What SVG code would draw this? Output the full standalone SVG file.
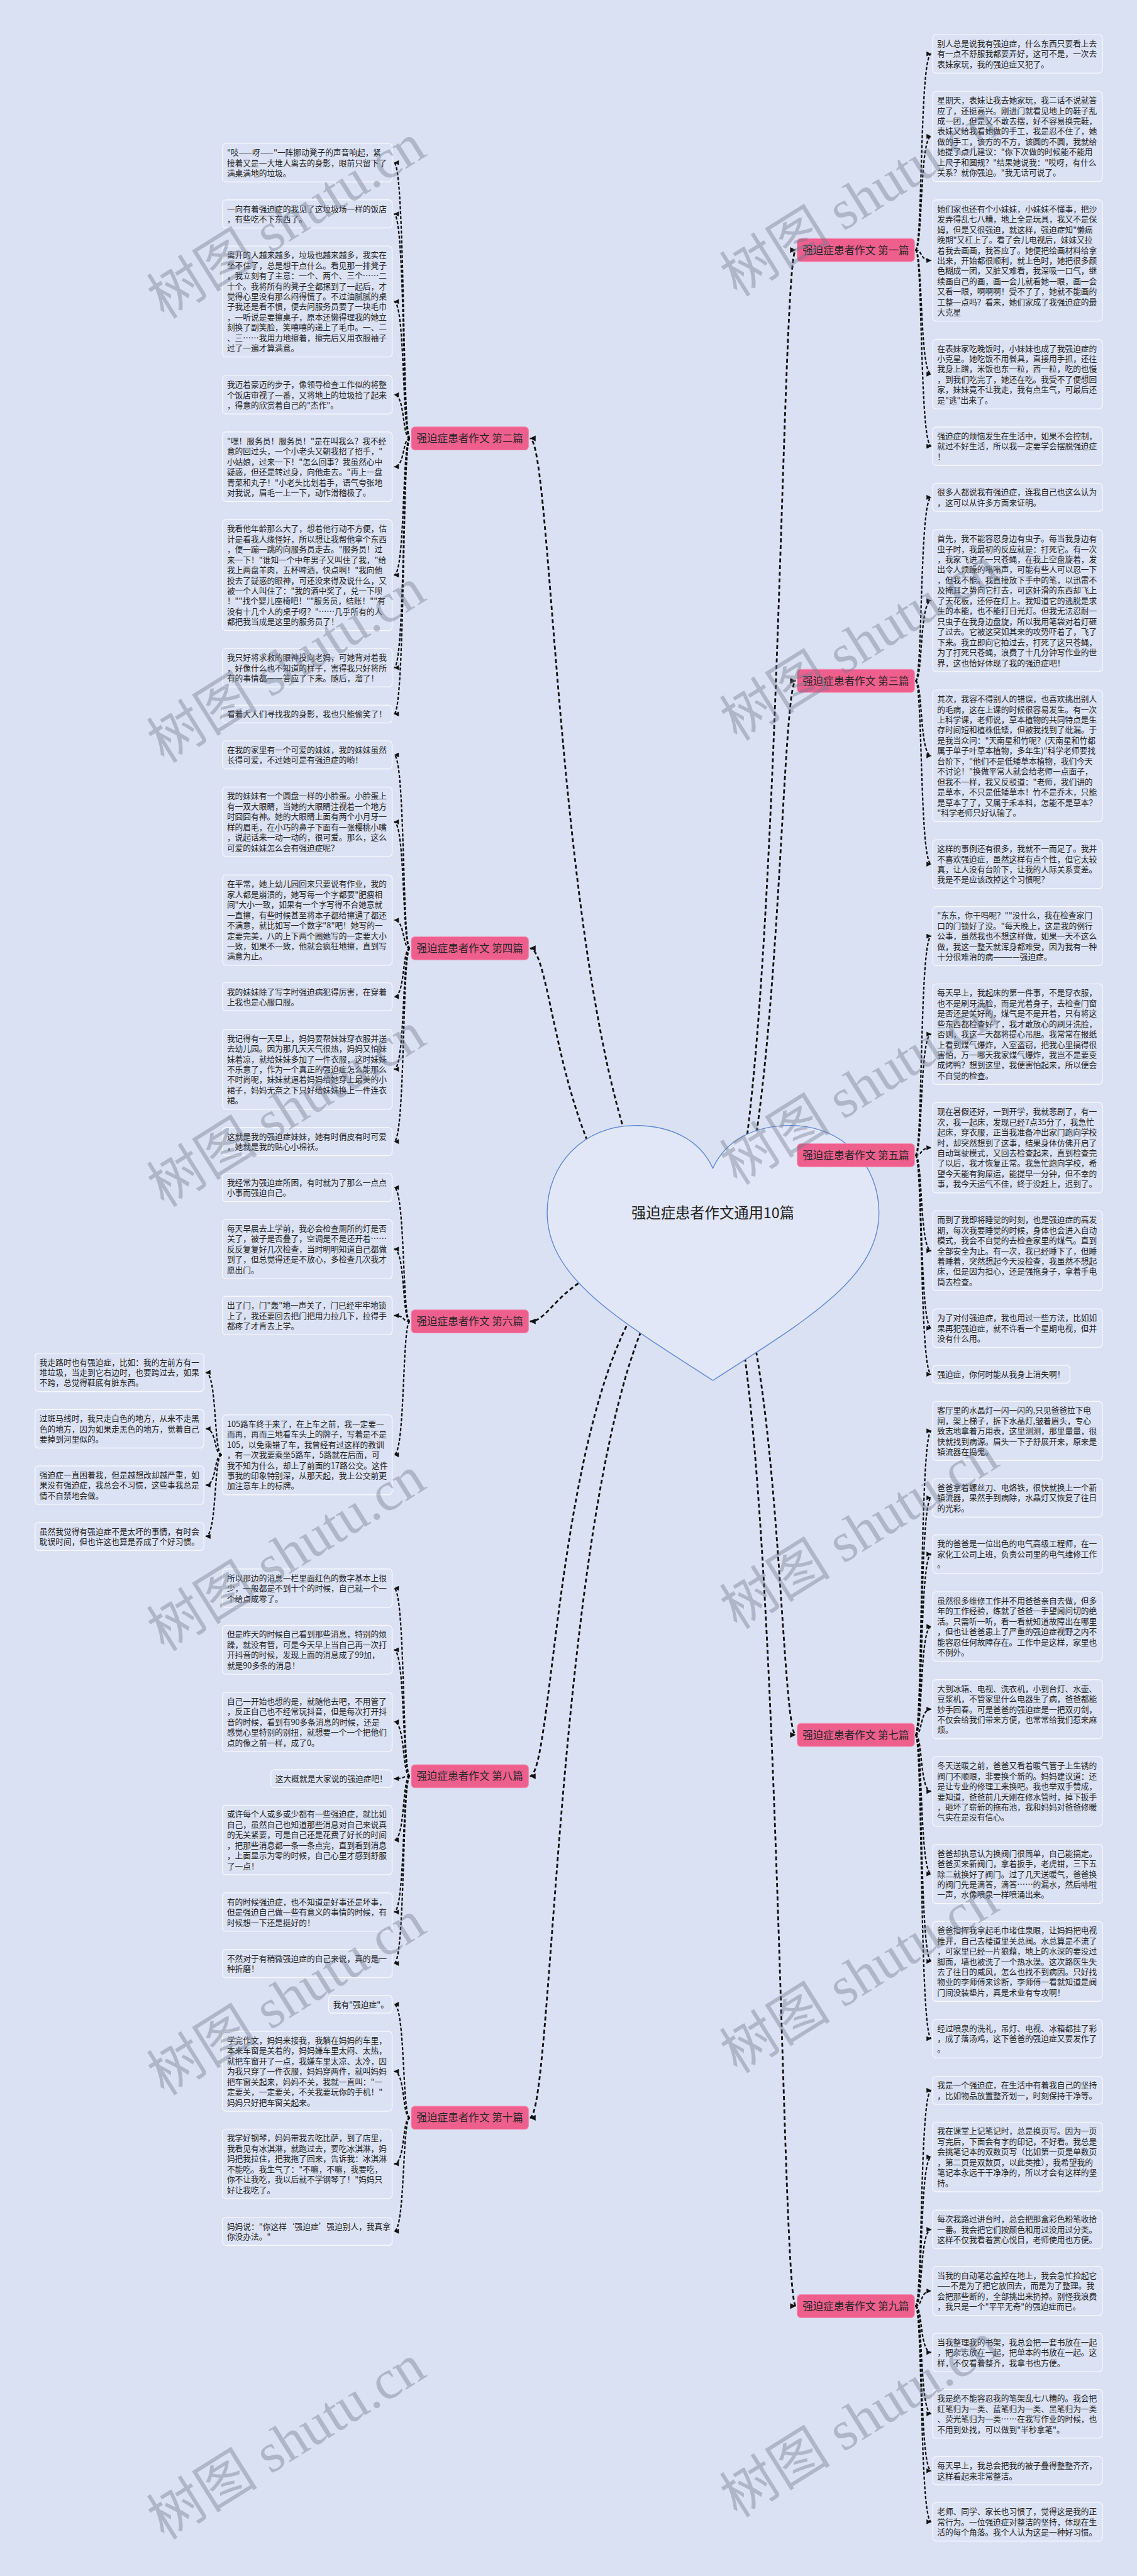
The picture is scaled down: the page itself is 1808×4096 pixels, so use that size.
<svg xmlns="http://www.w3.org/2000/svg" width="1808" height="4096" viewBox="0 0 1808 4096">
<defs>
<style>
.n rect{fill:#dbe2f4;stroke:#f6f8fd;stroke-width:2}
.n text{font-family:"Noto Sans CJK SC","Noto Sans",sans-serif;font-size:18px;fill:#232323}
.tp rect{fill:#ef5f8e;stroke:#f48bb0;stroke-width:1.5}
.tp text{font-family:"Noto Sans CJK SC","Noto Sans",sans-serif;font-size:23.5px;fill:#262626;text-anchor:middle}
.main{fill:none;stroke:#111;stroke-width:4;stroke-dasharray:9 6;marker-end:url(#am)}
.sub{fill:none;stroke:#111;stroke-width:3.2;stroke-dasharray:7 4;marker-end:url(#as)}
.wm{font-family:"Liberation Serif","Noto Sans CJK SC",serif;font-size:125px;fill:#6f788c;opacity:0.4}
</style>
<marker id="am" viewBox="0 0 10 10" refX="10" refY="5" markerWidth="15" markerHeight="13" markerUnits="userSpaceOnUse" orient="auto"><path d="M0,0 L10,5 L0,10 z" fill="#111"/></marker>
<marker id="as" viewBox="0 0 10 10" refX="10" refY="5" markerWidth="12" markerHeight="11" markerUnits="userSpaceOnUse" orient="auto"><path d="M0,0 L10,5 L0,10 z" fill="#111"/></marker>
</defs>
<rect width="1808" height="4096" fill="#dae1f2"/>
<g transform="scale(0.70625)">
<g id="connectors">
<path class="main" d="M1605 2820 C1755 2820 1755 563 1792 563"/>
<path class="main" d="M1605 2820 C1755 2820 1755 1533 1792 1533"/>
<path class="main" d="M1605 2820 C1755 2820 1755 2601 1792 2601"/>
<path class="main" d="M1605 2820 C1755 2820 1755 3906 1792 3906"/>
<path class="main" d="M1605 2820 C1755 2820 1755 5192 1792 5192"/>
<path class="main" d="M1605 2820 C1255 2820 1255 987 1193 987"/>
<path class="main" d="M1605 2820 C1255 2820 1255 2135 1193 2135"/>
<path class="main" d="M1605 2820 C1255 2820 1255 2975 1193 2975"/>
<path class="main" d="M1605 2820 C1255 2820 1255 3999 1193 3999"/>
<path class="main" d="M1605 2820 C1255 2820 1255 4768 1193 4768"/>
<path class="sub" d="M2061 563 C2078 563 2070 121.3 2097 121.3"/>
<path class="sub" d="M2061 563 C2078 563 2070 307 2097 307"/>
<path class="sub" d="M2061 563 C2078 563 2070 586.5 2097 586.5"/>
<path class="sub" d="M2061 563 C2078 563 2070 842.3 2097 842.3"/>
<path class="sub" d="M2061 563 C2078 563 2070 1004.8 2097 1004.8"/>
<path class="sub" d="M2061 1533 C2078 1533 2070 1119.7 2097 1119.7"/>
<path class="sub" d="M2061 1533 C2078 1533 2070 1352.3 2097 1352.3"/>
<path class="sub" d="M2061 1533 C2078 1533 2070 1701.7 2097 1701.7"/>
<path class="sub" d="M2061 1533 C2078 1533 2070 1945.5 2097 1945.5"/>
<path class="sub" d="M2061 2601 C2078 2601 2070 2107.6 2097 2107.6"/>
<path class="sub" d="M2061 2601 C2078 2601 2070 2328.2 2097 2328.2"/>
<path class="sub" d="M2061 2601 C2078 2601 2070 2584 2097 2584"/>
<path class="sub" d="M2061 2601 C2078 2601 2070 2815.9 2097 2815.9"/>
<path class="sub" d="M2061 2601 C2078 2601 2070 2990.3 2097 2990.3"/>
<path class="sub" d="M2061 2601 C2078 2601 2070 3094 2097 3094"/>
<path class="sub" d="M2061 3906 C2078 3906 2070 3221.6 2097 3221.6"/>
<path class="sub" d="M2061 3906 C2078 3906 2070 3372.3 2097 3372.3"/>
<path class="sub" d="M2061 3906 C2078 3906 2070 3498.8 2097 3498.8"/>
<path class="sub" d="M2061 3906 C2078 3906 2070 3661.8 2097 3661.8"/>
<path class="sub" d="M2061 3906 C2078 3906 2070 3848.1 2097 3848.1"/>
<path class="sub" d="M2061 3906 C2078 3906 2070 4033.3 2097 4033.3"/>
<path class="sub" d="M2061 3906 C2078 3906 2070 4219.1 2097 4219.1"/>
<path class="sub" d="M2061 3906 C2078 3906 2070 4415.9 2097 4415.9"/>
<path class="sub" d="M2061 3906 C2078 3906 2070 4589.8 2097 4589.8"/>
<path class="sub" d="M2061 5192 C2078 5192 2070 4706.2 2097 4706.2"/>
<path class="sub" d="M2061 5192 C2078 5192 2070 4856.3 2097 4856.3"/>
<path class="sub" d="M2061 5192 C2078 5192 2070 5019.3 2097 5019.3"/>
<path class="sub" d="M2061 5192 C2078 5192 2070 5158 2097 5158"/>
<path class="sub" d="M2061 5192 C2078 5192 2070 5296.3 2097 5296.3"/>
<path class="sub" d="M2061 5192 C2078 5192 2070 5434.5 2097 5434.5"/>
<path class="sub" d="M2061 5192 C2078 5192 2070 5562.7 2097 5562.7"/>
<path class="sub" d="M2061 5192 C2078 5192 2070 5677.8 2097 5677.8"/>
<path class="sub" d="M923 987 C905 987 913 366.3 887 366.3"/>
<path class="sub" d="M923 987 C905 987 913 481.7 887 481.7"/>
<path class="sub" d="M923 987 C905 987 913 678.9 887 678.9"/>
<path class="sub" d="M923 987 C905 987 913 888.8 887 888.8"/>
<path class="sub" d="M923 987 C905 987 913 1050.8 887 1050.8"/>
<path class="sub" d="M923 987 C905 987 913 1294.9 887 1294.9"/>
<path class="sub" d="M923 987 C905 987 913 1503.3 887 1503.3"/>
<path class="sub" d="M923 987 C905 987 913 1607.5 887 1607.5"/>
<path class="sub" d="M923 2135 C905 2135 913 1699.7 887 1699.7"/>
<path class="sub" d="M923 2135 C905 2135 913 1850.3 887 1850.3"/>
<path class="sub" d="M923 2135 C905 2135 913 2071.6 887 2071.6"/>
<path class="sub" d="M923 2135 C905 2135 913 2244.2 887 2244.2"/>
<path class="sub" d="M923 2135 C905 2135 913 2407.4 887 2407.4"/>
<path class="sub" d="M923 2135 C905 2135 913 2570.2 887 2570.2"/>
<path class="sub" d="M923 2975 C905 2975 913 2673.7 887 2673.7"/>
<path class="sub" d="M923 2975 C905 2975 913 2812.1 887 2812.1"/>
<path class="sub" d="M923 2975 C905 2975 913 2961.8 887 2961.8"/>
<path class="sub" d="M923 2975 C905 2975 913 3275.4 887 3275.4"/>
<path class="sub" d="M499 3275.4 C481 3275.4 489 3089.8 463 3089.8"/>
<path class="sub" d="M499 3275.4 C481 3275.4 489 3216.8 463 3216.8"/>
<path class="sub" d="M499 3275.4 C481 3275.4 489 3343.8 463 3343.8"/>
<path class="sub" d="M499 3275.4 C481 3275.4 489 3459.2 463 3459.2"/>
<path class="sub" d="M923 3999 C905 3999 913 3575.8 887 3575.8"/>
<path class="sub" d="M923 3999 C905 3999 913 3714.5 887 3714.5"/>
<path class="sub" d="M923 3999 C905 3999 913 3876.6 887 3876.6"/>
<path class="sub" d="M923 3999 C905 3999 913 4004.5 887 4004.5"/>
<path class="sub" d="M923 3999 C905 3999 913 4142.8 887 4142.8"/>
<path class="sub" d="M923 3999 C905 3999 913 4304.8 887 4304.8"/>
<path class="sub" d="M923 3999 C905 3999 913 4420.7 887 4420.7"/>
<path class="sub" d="M923 4768 C905 4768 913 4512.5 887 4512.5"/>
<path class="sub" d="M923 4768 C905 4768 913 4663.4 887 4663.4"/>
<path class="sub" d="M923 4768 C905 4768 913 4871.8 887 4871.8"/>
<path class="sub" d="M923 4768 C905 4768 913 5023.7 887 5023.7"/>
</g>

<g id="center">
<path d="M1605 2630 C1575 2565 1510 2534 1430 2534 C1315 2534 1232 2620 1232 2730 C1232 2880 1400 2975 1605 3108 C1810 2975 1979 2880 1979 2730 C1979 2620 1896 2534 1781 2534 C1700 2534 1635 2565 1605 2630 Z" fill="#e1e7f6" stroke="#5f88d6" stroke-width="2"/>
<text x="1605" y="2742" text-anchor="middle" font-family="Noto Sans CJK SC, Noto Sans, sans-serif" font-size="33" fill="#222">强迫症患者作文通用10篇</text>
</g>

<g id="T1" class="tp"><rect x="1795" y="537" width="264" height="52" rx="8"/><text x="1927" y="571.5">强迫症患者作文 第一篇</text></g>
<g id="T3" class="tp"><rect x="1795" y="1507" width="264" height="52" rx="8"/><text x="1927" y="1541.5">强迫症患者作文 第三篇</text></g>
<g id="T5" class="tp"><rect x="1795" y="2575" width="264" height="52" rx="8"/><text x="1927" y="2609.5">强迫症患者作文 第五篇</text></g>
<g id="T7" class="tp"><rect x="1795" y="3880" width="264" height="52" rx="8"/><text x="1927" y="3914.5">强迫症患者作文 第七篇</text></g>
<g id="T9" class="tp"><rect x="1795" y="5166" width="264" height="52" rx="8"/><text x="1927" y="5200.5">强迫症患者作文 第九篇</text></g>
<g id="T2" class="tp"><rect x="926" y="961" width="264" height="52" rx="8"/><text x="1058" y="995.5">强迫症患者作文 第二篇</text></g>
<g id="T4" class="tp"><rect x="926" y="2109" width="264" height="52" rx="8"/><text x="1058" y="2143.5">强迫症患者作文 第四篇</text></g>
<g id="T6" class="tp"><rect x="926" y="2949" width="264" height="52" rx="8"/><text x="1058" y="2983.5">强迫症患者作文 第六篇</text></g>
<g id="T8" class="tp"><rect x="926" y="3973" width="264" height="52" rx="8"/><text x="1058" y="4007.5">强迫症患者作文 第八篇</text></g>
<g id="T10" class="tp"><rect x="926" y="4742" width="264" height="52" rx="8"/><text x="1058" y="4776.5">强迫症患者作文 第十篇</text></g>

<g id="R1a" class="n"><rect x="2100" y="78" width="382" height="86.6" rx="8"/><text x="2110" y="104.8"><tspan x="2110">别人总是说我有强迫症，什么东西只要看上去</tspan><tspan x="2110" dy="23.3">有一点不舒服我都要弄好，这可不是，一次去</tspan><tspan x="2110" dy="23.3">表妹家玩，我的强迫症又犯了。</tspan></text></g>
<g id="R1b" class="n"><rect x="2100" y="205.5" width="382" height="203.1" rx="8"/><text x="2110" y="232.3"><tspan x="2110">星期天，表妹让我去她家玩，我二话不说就答</tspan><tspan x="2110" dy="23.3">应了，还挺高兴。刚进门就看见地上的鞋子乱</tspan><tspan x="2110" dy="23.3">成一团，但是又不敢去摆，好不容易换完鞋，</tspan><tspan x="2110" dy="23.3">表妹又给我看她做的手工，我是忍不住了，她</tspan><tspan x="2110" dy="23.3">做的手工，该方的不方，该圆的不圆，我就给</tspan><tspan x="2110" dy="23.3">她提了点儿建议："你下次做的时候能不能用</tspan><tspan x="2110" dy="23.3">上尺子和圆规？"结果她说我："哎呀，有什么</tspan><tspan x="2110" dy="23.3">关系？就你强迫。"我无话可说了。</tspan></text></g>
<g id="R1c" class="n"><rect x="2100" y="450" width="382" height="273" rx="8"/><text x="2110" y="476.8"><tspan x="2110">她们家也还有个小妹妹，小妹妹不懂事，把沙</tspan><tspan x="2110" dy="23.3">发弄得乱七八糟，地上全是玩具，我又不是保</tspan><tspan x="2110" dy="23.3">姆，但是又很强迫，就这样，强迫症知"懒癌</tspan><tspan x="2110" dy="23.3">晚期"又杠上了。看了会儿电视后，妹妹又拉</tspan><tspan x="2110" dy="23.3">着我去画画，我答应了。她便把绘画材料给拿</tspan><tspan x="2110" dy="23.3">出来，开始都很顺利，就上色时，她把很多颜</tspan><tspan x="2110" dy="23.3">色糊成一团，又脏又难看，我深吸一口气，继</tspan><tspan x="2110" dy="23.3">续画自己的画，画一会儿就看她一眼，画一会</tspan><tspan x="2110" dy="23.3">又看一眼，啊啊啊！受不了了，她就不能画的</tspan><tspan x="2110" dy="23.3">工整一点吗？看来，她们家成了我强迫症的最</tspan><tspan x="2110" dy="23.3">大克星</tspan></text></g>
<g id="R1d" class="n"><rect x="2100" y="764" width="382" height="156.5" rx="8"/><text x="2110" y="790.8"><tspan x="2110">在表妹家吃晚饭时，小妹妹也成了我强迫症的</tspan><tspan x="2110" dy="23.3">小克星。她吃饭不用餐具，直接用手抓，还往</tspan><tspan x="2110" dy="23.3">我身上蹭，米饭也东一粒，西一粒，吃的也慢</tspan><tspan x="2110" dy="23.3">，到我们吃完了，她还在吃。我受不了便想回</tspan><tspan x="2110" dy="23.3">家，妹妹竟不让我走，我有点生气，可最后还</tspan><tspan x="2110" dy="23.3">是"逃"出来了。</tspan></text></g>
<g id="R1e" class="n"><rect x="2100" y="961.5" width="382" height="86.6" rx="8"/><text x="2110" y="988.3"><tspan x="2110">强迫症的烦恼发生在生活中，如果不会控制，</tspan><tspan x="2110" dy="23.3">就过不好生活，所以我一定要学会摆脱强迫症</tspan><tspan x="2110" dy="23.3">！</tspan></text></g>

<g id="R3a" class="n"><rect x="2100" y="1088" width="382" height="63.3" rx="8"/><text x="2110" y="1114.8"><tspan x="2110">很多人都说我有强迫症，连我自己也这么认为</tspan><tspan x="2110" dy="23.3">，这可以从许多方面来证明。</tspan></text></g>
<g id="R3b" class="n"><rect x="2100" y="1192.5" width="382" height="319.6" rx="8"/><text x="2110" y="1219.3"><tspan x="2110">首先，我不能容忍身边有虫子。每当我身边有</tspan><tspan x="2110" dy="23.3">虫子时，我最初的反应就是：打死它。有一次</tspan><tspan x="2110" dy="23.3">，我家飞进了一只苍蝇，在我上空盘旋着，发</tspan><tspan x="2110" dy="23.3">出令人烦躁的嗡嗡声，可能有些人可以忍一下</tspan><tspan x="2110" dy="23.3">，但我不能。我直接放下手中的笔，以迅雷不</tspan><tspan x="2110" dy="23.3">及掩耳之势向它打去，可这奸滑的东西却飞上</tspan><tspan x="2110" dy="23.3">了天花板，还停在灯上。我知道它的逃脱是求</tspan><tspan x="2110" dy="23.3">生的本能，也不能打日光灯。但我无法忍耐一</tspan><tspan x="2110" dy="23.3">只虫子在我身边盘旋，所以我用笔袋对着灯砸</tspan><tspan x="2110" dy="23.3">了过去。它被这突如其来的攻势吓着了，飞了</tspan><tspan x="2110" dy="23.3">下来。我立即向它拍过去，打死了这只苍蝇，</tspan><tspan x="2110" dy="23.3">为了打死只苍蝇，浪费了十几分钟写作业的世</tspan><tspan x="2110" dy="23.3">界，这也恰好体现了我的强迫症吧！</tspan></text></g>
<g id="R3c" class="n"><rect x="2100" y="1553.5" width="382" height="296.3" rx="8"/><text x="2110" y="1580.3"><tspan x="2110">其次，我容不得别人的错误，也喜欢挑出别人</tspan><tspan x="2110" dy="23.3">的毛病，这在上课的时候很容易发生。有一次</tspan><tspan x="2110" dy="23.3">上科学课，老师说，草本植物的共同特点是生</tspan><tspan x="2110" dy="23.3">存时间短和植株低矮，但被我找到了纰漏。于</tspan><tspan x="2110" dy="23.3">是我当众问："天南星和竹呢？(天南星和竹都</tspan><tspan x="2110" dy="23.3">属于单子叶草本植物，多年生)"科学老师要找</tspan><tspan x="2110" dy="23.3">台阶下，"他们不是低矮草本植物，我们今天</tspan><tspan x="2110" dy="23.3">不讨论！"换做平常人就会给老师一点面子，</tspan><tspan x="2110" dy="23.3">但我不一样，我又反驳道："老师，我们讲的</tspan><tspan x="2110" dy="23.3">是草本，不只是低矮草本！竹不是乔木，只能</tspan><tspan x="2110" dy="23.3">是草本了了，又属于禾本科，怎能不是草本？</tspan><tspan x="2110" dy="23.3">"科学老师只好认输了。</tspan></text></g>
<g id="R3d" class="n"><rect x="2100" y="1890.5" width="382" height="109.9" rx="8"/><text x="2110" y="1917.3"><tspan x="2110">这样的事例还有很多，我就不一而足了。我并</tspan><tspan x="2110" dy="23.3">不喜欢强迫症，虽然这样有点个性，但它太较</tspan><tspan x="2110" dy="23.3">真，让人没有台阶下，让我的人际关系变差。</tspan><tspan x="2110" dy="23.3">我是不是应该改掉这个习惯呢？</tspan></text></g>

<g id="R5a" class="n"><rect x="2100" y="2041" width="382" height="133.2" rx="8"/><text x="2110" y="2067.8"><tspan x="2110">"东东，你干吗呢？""没什么，我在检查家门</tspan><tspan x="2110" dy="23.3">口的门锁好了没。"每天晚上，这是我的例行</tspan><tspan x="2110" dy="23.3">公事，虽然我也不想这样做，如果一天不这么</tspan><tspan x="2110" dy="23.3">做，我这一整天就浑身都难受，因为我有一种</tspan><tspan x="2110" dy="23.3">十分很难治的病————强迫症。</tspan></text></g>
<g id="R5b" class="n"><rect x="2100" y="2215" width="382" height="226.4" rx="8"/><text x="2110" y="2241.8"><tspan x="2110">每天早上，我起床的第一件事，不是穿衣服，</tspan><tspan x="2110" dy="23.3">也不是刷牙洗脸，而是光着身子，去检查门窗</tspan><tspan x="2110" dy="23.3">是否还是关好的，煤气是不是开着，只有将这</tspan><tspan x="2110" dy="23.3">些东西都检查好了，我才敢放心的刷牙洗脸，</tspan><tspan x="2110" dy="23.3">否则，我这一天都将提心吊胆。我常常在报纸</tspan><tspan x="2110" dy="23.3">上看到煤气爆炸，入室盗窃，把我心里搞得很</tspan><tspan x="2110" dy="23.3">害怕，万一哪天我家煤气爆炸，我岂不是要变</tspan><tspan x="2110" dy="23.3">成烤鸭？想到这里，我便害怕起来，所以便会</tspan><tspan x="2110" dy="23.3">不自觉的检查。</tspan></text></g>
<g id="R5c" class="n"><rect x="2100" y="2482.5" width="382" height="203.1" rx="8"/><text x="2110" y="2509.3"><tspan x="2110">现在暑假还好，一到开学，我就悲剧了，有一</tspan><tspan x="2110" dy="23.3">次，我一起床，发现已经7点35分了，我急忙</tspan><tspan x="2110" dy="23.3">起床，穿衣服，正当我准备冲出家门跑向学校</tspan><tspan x="2110" dy="23.3">时，却突然想到了这事，结果身体仿佛开启了</tspan><tspan x="2110" dy="23.3">自动驾驶模式，又回去检查起来，直到检查完</tspan><tspan x="2110" dy="23.3">了以后，我才恢复正常。我急忙跑向学校，希</tspan><tspan x="2110" dy="23.3">望今天能有狗屎运，能提早一分钟，但不幸的</tspan><tspan x="2110" dy="23.3">事，我今天运气不佳，终于没赶上，迟到了。</tspan></text></g>
<g id="R5d" class="n"><rect x="2100" y="2726" width="382" height="179.8" rx="8"/><text x="2110" y="2752.8"><tspan x="2110">而到了我即将睡觉的时刻，也是强迫症的高发</tspan><tspan x="2110" dy="23.3">期，每次我要睡觉的时候，身体也会进入自动</tspan><tspan x="2110" dy="23.3">模式，我会不自觉的去检查家里的煤气。直到</tspan><tspan x="2110" dy="23.3">全部安全为止。有一次，我已经睡下了，但睡</tspan><tspan x="2110" dy="23.3">着睡着，突然想起今天没检查，我虽然不想起</tspan><tspan x="2110" dy="23.3">床，但是因为担心，还是强拖身子，拿着手电</tspan><tspan x="2110" dy="23.3">筒去检查。</tspan></text></g>
<g id="R5e" class="n"><rect x="2100" y="2947" width="382" height="86.6" rx="8"/><text x="2110" y="2973.8"><tspan x="2110">为了对付强迫症，我也用过一些方法，比如如</tspan><tspan x="2110" dy="23.3">果再犯强迫症，就不许看一个星期电视，但并</tspan><tspan x="2110" dy="23.3">没有什么用。</tspan></text></g>
<g id="R5f" class="n"><rect x="2100" y="3074" width="309" height="40" rx="8"/><text x="2110" y="3100.8">强迫症，你何时能从我身上消失啊！</text></g>

<g id="R7a" class="n"><rect x="2100" y="3155" width="382" height="133.2" rx="8"/><text x="2110" y="3181.8"><tspan x="2110">客厅里的水晶灯一闪一闪的,只见爸爸拉下电</tspan><tspan x="2110" dy="23.3">闸，架上梯子，拆下水晶灯,皱着眉头，专心</tspan><tspan x="2110" dy="23.3">致志地拿着万用表，这里测测，那里量量，很</tspan><tspan x="2110" dy="23.3">快就找到病源。眉头一下子舒展开来，原来是</tspan><tspan x="2110" dy="23.3">镇流器在捣鬼。</tspan></text></g>
<g id="R7b" class="n"><rect x="2100" y="3329" width="382" height="86.6" rx="8"/><text x="2110" y="3355.8"><tspan x="2110">爸爸拿着螺丝刀、电烙铁，很快就换上一个新</tspan><tspan x="2110" dy="23.3">镇流器，果然手到病除，水晶灯又恢复了往日</tspan><tspan x="2110" dy="23.3">的光彩。</tspan></text></g>
<g id="R7c" class="n"><rect x="2100" y="3455.5" width="382" height="86.6" rx="8"/><text x="2110" y="3482.3"><tspan x="2110">我的爸爸是一位出色的电气高级工程师，在一</tspan><tspan x="2110" dy="23.3">家化工公司上班，负责公司里的电气维修工作</tspan><tspan x="2110" dy="23.3">。</tspan></text></g>
<g id="R7d" class="n"><rect x="2100" y="3583.5" width="382" height="156.5" rx="8"/><text x="2110" y="3610.3"><tspan x="2110">虽然很多维修工作并不用爸爸亲自去做，但多</tspan><tspan x="2110" dy="23.3">年的工作经验，练就了爸爸一手望闻问切的绝</tspan><tspan x="2110" dy="23.3">活。只需听一听，看一看就知道故障出在哪里</tspan><tspan x="2110" dy="23.3">，但也让爸爸患上了严重的强迫症视野之内不</tspan><tspan x="2110" dy="23.3">能容忍任何故障存在。工作中是这样，家里也</tspan><tspan x="2110" dy="23.3">不例外。</tspan></text></g>
<g id="R7e" class="n"><rect x="2100" y="3781.5" width="382" height="133.2" rx="8"/><text x="2110" y="3808.3"><tspan x="2110">大到冰箱、电视、洗衣机，小到台灯、水壶、</tspan><tspan x="2110" dy="23.3">豆浆机，不管家里什么电器生了病，爸爸都能</tspan><tspan x="2110" dy="23.3">妙手回春。可是爸爸的强迫症是一把双刃剑，</tspan><tspan x="2110" dy="23.3">不仅会给我们带来方便，也常常给我们惹来麻</tspan><tspan x="2110" dy="23.3">烦。</tspan></text></g>
<g id="R7f" class="n"><rect x="2100" y="3955" width="382" height="156.5" rx="8"/><text x="2110" y="3981.8"><tspan x="2110">冬天送暖之前，爸爸又看着暖气管子上生锈的</tspan><tspan x="2110" dy="23.3">阀门不顺眼，非要换个新的。妈妈建议道：还</tspan><tspan x="2110" dy="23.3">是让专业的修理工来换吧。我也举双手赞成，</tspan><tspan x="2110" dy="23.3">要知道，爸爸前几天刚在修水管时，掉下扳手</tspan><tspan x="2110" dy="23.3">，砸坏了崭新的拖布池，我和妈妈对爸爸修暖</tspan><tspan x="2110" dy="23.3">气实在是没有信心。</tspan></text></g>
<g id="R7g" class="n"><rect x="2100" y="4152.5" width="382" height="133.2" rx="8"/><text x="2110" y="4179.3"><tspan x="2110">爸爸却执意认为换阀门很简单，自己能搞定。</tspan><tspan x="2110" dy="23.3">爸爸买来新阀门，拿着扳手，老虎钳，三下五</tspan><tspan x="2110" dy="23.3">除二就换好了阀门。过了几天送暖气，爸爸换</tspan><tspan x="2110" dy="23.3">的阀门先是滴答，滴答……的漏水，然后哧啦</tspan><tspan x="2110" dy="23.3">一声，水像喷泉一样喷涌出来。</tspan></text></g>
<g id="R7h" class="n"><rect x="2100" y="4326" width="382" height="179.8" rx="8"/><text x="2110" y="4352.8"><tspan x="2110">爸爸指挥我拿起毛巾堵住泉眼，让妈妈把电视</tspan><tspan x="2110" dy="23.3">推开，自己去楼道里关总阀。水总算是不流了</tspan><tspan x="2110" dy="23.3">，可家里已经一片狼藉，地上的水深的要没过</tspan><tspan x="2110" dy="23.3">脚面，墙也被洗了一个热水澡。这次路医生失</tspan><tspan x="2110" dy="23.3">去了往日的威风，怎么也找不到病因。只好找</tspan><tspan x="2110" dy="23.3">物业的李师傅来诊断，李师傅一看就知道是阀</tspan><tspan x="2110" dy="23.3">门间没装垫片，真是术业有专攻啊！</tspan></text></g>
<g id="R7i" class="n"><rect x="2100" y="4546.5" width="382" height="86.6" rx="8"/><text x="2110" y="4573.3"><tspan x="2110">经过喷泉的洗礼，吊灯、电视、冰箱都挂了彩</tspan><tspan x="2110" dy="23.3">，成了落汤鸡，这下爸爸的强迫症又要发作了</tspan><tspan x="2110" dy="23.3">。</tspan></text></g>

<g id="R9a" class="n"><rect x="2100" y="4674.5" width="382" height="63.3" rx="8"/><text x="2110" y="4701.3"><tspan x="2110">我是一个强迫症，在生活中有着我自己的坚持</tspan><tspan x="2110" dy="23.3">，比如物品放置整齐划一，时刻保持干净等。</tspan></text></g>
<g id="R9b" class="n"><rect x="2100" y="4778" width="382" height="156.5" rx="8"/><text x="2110" y="4804.8"><tspan x="2110">我在课堂上记笔记时，总是换页写。因为一页</tspan><tspan x="2110" dy="23.3">写完后，下面会有字的印记，不好看。我总是</tspan><tspan x="2110" dy="23.3">会挑笔记本的双数页写（比如第一页是单数页</tspan><tspan x="2110" dy="23.3">，第二页是双数页，以此类推），我希望我的</tspan><tspan x="2110" dy="23.3">笔记本永远干干净净的，所以才会有这样的坚</tspan><tspan x="2110" dy="23.3">持。</tspan></text></g>
<g id="R9c" class="n"><rect x="2100" y="4976" width="382" height="86.6" rx="8"/><text x="2110" y="5002.8"><tspan x="2110">每次我路过讲台时，总会把那盒彩色粉笔收拾</tspan><tspan x="2110" dy="23.3">一番。我会把它们按颜色和用过没用过分类。</tspan><tspan x="2110" dy="23.3">这样不仅我看着赏心悦目，老师使用也方便。</tspan></text></g>
<g id="R9d" class="n"><rect x="2100" y="5103" width="382" height="109.9" rx="8"/><text x="2110" y="5129.8"><tspan x="2110">当我的自动笔芯盒掉在地上，我会急忙捡起它</tspan><tspan x="2110" dy="23.3">——不是为了把它放回去，而是为了整理。我</tspan><tspan x="2110" dy="23.3">会把那些断的，全部挑出来扔掉。别怪我浪费</tspan><tspan x="2110" dy="23.3">，我只是一个"平平无奇"的强迫症而已。</tspan></text></g>
<g id="R9e" class="n"><rect x="2100" y="5253" width="382" height="86.6" rx="8"/><text x="2110" y="5279.8"><tspan x="2110">当我整理我的书架，我总会把一套书放在一起</tspan><tspan x="2110" dy="23.3">，把杂志放在一起，把单本的书放在一起。这</tspan><tspan x="2110" dy="23.3">样，不仅看着整齐，我拿书也方便。</tspan></text></g>
<g id="R9f" class="n"><rect x="2100" y="5379.5" width="382" height="109.9" rx="8"/><text x="2110" y="5406.3"><tspan x="2110">我是绝不能容忍我的笔架乱七八糟的。我会把</tspan><tspan x="2110" dy="23.3">红笔归为一类、蓝笔归为一类、黑笔归为一类</tspan><tspan x="2110" dy="23.3">、荧光笔归为一类……在我写作业的时候，也</tspan><tspan x="2110" dy="23.3">不用到处找，可以做到"半秒拿笔"。</tspan></text></g>
<g id="R9g" class="n"><rect x="2100" y="5531" width="382" height="63.3" rx="8"/><text x="2110" y="5557.8"><tspan x="2110">每天早上，我总会把我的被子叠得整整齐齐，</tspan><tspan x="2110" dy="23.3">这样看起来非常整洁。</tspan></text></g>
<g id="R9h" class="n"><rect x="2100" y="5634.5" width="382" height="86.6" rx="8"/><text x="2110" y="5661.3"><tspan x="2110">老师、同学、家长也习惯了，觉得这是我的正</tspan><tspan x="2110" dy="23.3">常行为。一位强迫症对整洁的坚持，体现在生</tspan><tspan x="2110" dy="23.3">活的每个角落。我个人认为这是一种好习惯。</tspan></text></g>

<g id="L2a" class="n"><rect x="501" y="323" width="382" height="86.6" rx="8"/><text x="511" y="349.8"><tspan x="511">"吱——呀——"一阵挪动凳子的声音响起，紧</tspan><tspan x="511" dy="23.3">接着又是一大堆人离去的身影，眼前只留下了</tspan><tspan x="511" dy="23.3">满桌满地的垃圾。</tspan></text></g>
<g id="L2b" class="n"><rect x="501" y="450" width="382" height="63.3" rx="8"/><text x="511" y="476.8"><tspan x="511">一向有着强迫症的我见了这垃圾场一样的饭店</tspan><tspan x="511" dy="23.3">，有些吃不下东西了。</tspan></text></g>
<g id="L2c" class="n"><rect x="501" y="554" width="382" height="249.7" rx="8"/><text x="511" y="580.8"><tspan x="511">离开的人越来越多，垃圾也越来越多，我实在</tspan><tspan x="511" dy="23.3">坐不住了，总是想干点什么。看见那一排凳子</tspan><tspan x="511" dy="23.3">，我立刻有了主意：一个、两个、三个……二</tspan><tspan x="511" dy="23.3">十个。我将所有的凳子全都摞到了一起后，才</tspan><tspan x="511" dy="23.3">觉得心里没有那么闷得慌了。不过油腻腻的桌</tspan><tspan x="511" dy="23.3">子我还是看不惯，便去问服务员要了一块毛巾</tspan><tspan x="511" dy="23.3">，一听说是要擦桌子，原本还懒得理我的她立</tspan><tspan x="511" dy="23.3">刻换了副笑脸，笑嘻嘻的递上了毛巾。一、二</tspan><tspan x="511" dy="23.3">、三……我用力地擦着，擦完后又用衣服袖子</tspan><tspan x="511" dy="23.3">过了一遍才算满意。</tspan></text></g>
<g id="L2d" class="n"><rect x="501" y="845.5" width="382" height="86.6" rx="8"/><text x="511" y="872.3"><tspan x="511">我迈着豪迈的步子，像领导检查工作似的将整</tspan><tspan x="511" dy="23.3">个饭店审视了一番，又将地上的垃圾捡了起来</tspan><tspan x="511" dy="23.3">，得意的欣赏着自己的"杰作"。</tspan></text></g>
<g id="L2e" class="n"><rect x="501" y="972.5" width="382" height="156.5" rx="8"/><text x="511" y="999.3"><tspan x="511">"嘿！服务员！服务员！"是在叫我么？我不经</tspan><tspan x="511" dy="23.3">意的回过头，一个小老头又朝我招了招手，"</tspan><tspan x="511" dy="23.3">小姑娘，过来一下！"怎么回事？我虽然心中</tspan><tspan x="511" dy="23.3">疑惑，但还是转过身，向他走去。"再上一盘</tspan><tspan x="511" dy="23.3">青菜和丸子！"小老头比划着手，语气夸张地</tspan><tspan x="511" dy="23.3">对我说，眉毛一上一下，动作滑稽极了。</tspan></text></g>
<g id="L2f" class="n"><rect x="501" y="1170" width="382" height="249.7" rx="8"/><text x="511" y="1196.8"><tspan x="511">我看他年龄那么大了，想着他行动不方便，估</tspan><tspan x="511" dy="23.3">计是看我人缘怪好，所以想让我帮他拿个东西</tspan><tspan x="511" dy="23.3">，便一蹦一跳的向服务员走去。"服务员！过</tspan><tspan x="511" dy="23.3">来一下！"谁知一个中年男子又叫住了我，"给</tspan><tspan x="511" dy="23.3">我上两盘羊肉，五杯啤酒，快点啊！"我向他</tspan><tspan x="511" dy="23.3">投去了疑惑的眼神，可还没来得及说什么，又</tspan><tspan x="511" dy="23.3">被一个人叫住了："我的酒中奖了，兑一下呗</tspan><tspan x="511" dy="23.3">！""找个婴儿座椅吧！""服务员，结账！""有</tspan><tspan x="511" dy="23.3">没有十几个人的桌子呀？"……几乎所有的人</tspan><tspan x="511" dy="23.3">都把我当成是这里的服务员了！</tspan></text></g>
<g id="L2g" class="n"><rect x="501" y="1460" width="382" height="86.6" rx="8"/><text x="511" y="1486.8"><tspan x="511">我只好将求救的眼神投向老妈，可她背对着我</tspan><tspan x="511" dy="23.3">，好像什么也不知道的样子，害得我只好将所</tspan><tspan x="511" dy="23.3">有的事情都一一答应了下来。随后，溜了！</tspan></text></g>
<g id="L2h" class="n"><rect x="501" y="1587.5" width="382" height="40" rx="8"/><text x="511" y="1614.3">看着大人们寻找我的身影，我也只能偷笑了！</text></g>

<g id="L4a" class="n"><rect x="501" y="1668" width="382" height="63.3" rx="8"/><text x="511" y="1694.8"><tspan x="511">在我的家里有一个可爱的妹妹，我的妹妹虽然</tspan><tspan x="511" dy="23.3">长得可爱，不过她可是有强迫症的哟！</tspan></text></g>
<g id="L4b" class="n"><rect x="501" y="1772" width="382" height="156.5" rx="8"/><text x="511" y="1798.8"><tspan x="511">我的妹妹有一个圆盘一样的小脸蛋。小脸蛋上</tspan><tspan x="511" dy="23.3">有一双大眼睛，当她的大眼睛注视着一个地方</tspan><tspan x="511" dy="23.3">时囧囧有神。她的大眼睛上面有两个小月牙一</tspan><tspan x="511" dy="23.3">样的眉毛，在小巧的鼻子下面有一张樱桃小嘴</tspan><tspan x="511" dy="23.3">，说起话来一动一动的，很可爱。那么，这么</tspan><tspan x="511" dy="23.3">可爱的妹妹怎么会有强迫症呢？</tspan></text></g>
<g id="L4c" class="n"><rect x="501" y="1970" width="382" height="203.1" rx="8"/><text x="511" y="1996.8"><tspan x="511">在平常，她上幼儿园回来只要说有作业，我的</tspan><tspan x="511" dy="23.3">家人都是崩溃的，她写每一个字都要"肥瘦相</tspan><tspan x="511" dy="23.3">间"大小一致，如果有一个字写得不合她意就</tspan><tspan x="511" dy="23.3">一直擦，有些时候甚至将本子都给擦通了都还</tspan><tspan x="511" dy="23.3">不满意，就比如写一个数字"8"吧！她写的一</tspan><tspan x="511" dy="23.3">定要完美，八的上下两个圈她写的一定要大小</tspan><tspan x="511" dy="23.3">一致，如果不一致，他就会疯狂地擦，直到写</tspan><tspan x="511" dy="23.3">满意为止。</tspan></text></g>
<g id="L4d" class="n"><rect x="501" y="2212.5" width="382" height="63.3" rx="8"/><text x="511" y="2239.3"><tspan x="511">我的妹妹除了写字时强迫病犯得厉害，在穿着</tspan><tspan x="511" dy="23.3">上我也是心服口服。</tspan></text></g>
<g id="L4e" class="n"><rect x="501" y="2317.5" width="382" height="179.8" rx="8"/><text x="511" y="2344.3"><tspan x="511">我记得有一天早上，妈妈要帮妹妹穿衣服并送</tspan><tspan x="511" dy="23.3">去幼儿园。因为那几天天气很热，妈妈又怕妹</tspan><tspan x="511" dy="23.3">妹着凉，就给妹妹多加了一件衣服，这时妹妹</tspan><tspan x="511" dy="23.3">不乐意了，作为一个真正的强迫症怎么能那么</tspan><tspan x="511" dy="23.3">不时尚呢，妹妹就逼着妈妈给她穿上最美的小</tspan><tspan x="511" dy="23.3">裙子，妈妈无奈之下只好给妹妹换上一件连衣</tspan><tspan x="511" dy="23.3">裙。</tspan></text></g>
<g id="L4f" class="n"><rect x="501" y="2538.5" width="382" height="63.3" rx="8"/><text x="511" y="2565.3"><tspan x="511">这就是我的强迫症妹妹，她有时俏皮有时可爱</tspan><tspan x="511" dy="23.3">，她就是我的贴心小棉袄。</tspan></text></g>

<g id="L6a" class="n"><rect x="501" y="2642" width="382" height="63.3" rx="8"/><text x="511" y="2668.8"><tspan x="511">我经常为强迫症所困，有时就为了那么一点点</tspan><tspan x="511" dy="23.3">小事而强迫自己。</tspan></text></g>
<g id="L6b" class="n"><rect x="501" y="2745.5" width="382" height="133.2" rx="8"/><text x="511" y="2772.3"><tspan x="511">每天早晨去上学前，我必会检查厕所的灯是否</tspan><tspan x="511" dy="23.3">关了，被子是否叠了，空调是不是还开着……</tspan><tspan x="511" dy="23.3">反反复复好几次检查，当时明明知道自己都做</tspan><tspan x="511" dy="23.3">到了，但总觉得还是不放心，多检查几次我才</tspan><tspan x="511" dy="23.3">愿出门。</tspan></text></g>
<g id="L6c" class="n"><rect x="501" y="2918.5" width="382" height="86.6" rx="8"/><text x="511" y="2945.3"><tspan x="511">出了门，门"轰"地一声关了，门已经牢牢地锁</tspan><tspan x="511" dy="23.3">上了，我还要回去把门把用力拉几下，拉得手</tspan><tspan x="511" dy="23.3">都疼了才肯去上学。</tspan></text></g>
<g id="L6d" class="n"><rect x="501" y="3185.5" width="382" height="179.8" rx="8"/><text x="511" y="3212.3"><tspan x="511">105路车终于来了，在上车之前，我一定要一</tspan><tspan x="511" dy="23.3">而再，再而三地看车头上的牌子，写着是不是</tspan><tspan x="511" dy="23.3">105，以免乘错了车，我曾经有过这样的教训</tspan><tspan x="511" dy="23.3">，有一次我要乘坐5路车，5路就在后面，可</tspan><tspan x="511" dy="23.3">我不知为什么，却上了前面的17路公交。这件</tspan><tspan x="511" dy="23.3">事我的印象特别深，从那天起，我上公交前更</tspan><tspan x="511" dy="23.3">加注意车上的标牌。</tspan></text></g>
<g id="F1" class="n"><rect x="79" y="3046.5" width="380" height="86.6" rx="8"/><text x="89" y="3073.3"><tspan x="89">我走路时也有强迫症，比如：我的左前方有一</tspan><tspan x="89" dy="23.3">堆垃圾，当走到它右边时，也要跨过去，如果</tspan><tspan x="89" dy="23.3">不跨，总觉得鞋底有脏东西。</tspan></text></g>
<g id="F2" class="n"><rect x="79" y="3173.5" width="380" height="86.6" rx="8"/><text x="89" y="3200.3"><tspan x="89">过斑马线时，我只走白色的地方，从来不走黑</tspan><tspan x="89" dy="23.3">色的地方，因为如果走黑色的地方，觉着自己</tspan><tspan x="89" dy="23.3">要掉到河里似的。</tspan></text></g>
<g id="F3" class="n"><rect x="79" y="3300.5" width="380" height="86.6" rx="8"/><text x="89" y="3327.3"><tspan x="89">强迫症一直困着我，但是越想改却越严重，如</tspan><tspan x="89" dy="23.3">果没有强迫症，我总会不习惯，这些事我总是</tspan><tspan x="89" dy="23.3">情不自禁地会做。</tspan></text></g>
<g id="F4" class="n"><rect x="79" y="3427.5" width="380" height="63.3" rx="8"/><text x="89" y="3454.3"><tspan x="89">虽然我觉得有强迫症不是太坏的事情，有时会</tspan><tspan x="89" dy="23.3">耽误时间，但也许这也算是养成了个好习惯。</tspan></text></g>

<g id="L8a" class="n"><rect x="501" y="3532.5" width="382" height="86.6" rx="8"/><text x="511" y="3559.3"><tspan x="511">所以那边的消息一栏里面红色的数字基本上很</tspan><tspan x="511" dy="23.3">少，一般都是不到十个的时候，自己就一个一</tspan><tspan x="511" dy="23.3">个给点成零了。</tspan></text></g>
<g id="L8b" class="n"><rect x="501" y="3659.5" width="382" height="109.9" rx="8"/><text x="511" y="3686.3"><tspan x="511">但是昨天的时候自己看到那些消息，特别的烦</tspan><tspan x="511" dy="23.3">躁，就没有管，可是今天早上当自己再一次打</tspan><tspan x="511" dy="23.3">开抖音的时候，发现上面的消息成了99加，</tspan><tspan x="511" dy="23.3">就是90多条的消息！</tspan></text></g>
<g id="L8c" class="n"><rect x="501" y="3810" width="382" height="133.2" rx="8"/><text x="511" y="3836.8"><tspan x="511">自己一开始也想的是，就随他去吧，不用管了</tspan><tspan x="511" dy="23.3">，反正自己也不经常玩抖音，但是每次打开抖</tspan><tspan x="511" dy="23.3">音的时候，看到有90多条消息的时候，还是</tspan><tspan x="511" dy="23.3">感觉心里特别的别扭，就想要一个一个把他们</tspan><tspan x="511" dy="23.3">点的像之前一样，成了0。</tspan></text></g>
<g id="L8d" class="n"><rect x="610" y="3984.5" width="273" height="40" rx="8"/><text x="620" y="4011.3">这大概就是大家说的强迫症吧！</text></g>
<g id="L8e" class="n"><rect x="501" y="4064.5" width="382" height="156.5" rx="8"/><text x="511" y="4091.3"><tspan x="511">或许每个人或多或少都有一些强迫症，就比如</tspan><tspan x="511" dy="23.3">自己，虽然自己也知道那些消息对自己来说真</tspan><tspan x="511" dy="23.3">的无关紧要，可是自己还是花费了好长的时间</tspan><tspan x="511" dy="23.3">，把那些消息都一条一条点完，直到看到消息</tspan><tspan x="511" dy="23.3">，上面显示为零的时候，自己心里才感到舒服</tspan><tspan x="511" dy="23.3">了一点！</tspan></text></g>
<g id="L8f" class="n"><rect x="501" y="4261.5" width="382" height="86.6" rx="8"/><text x="511" y="4288.3"><tspan x="511">有的时候强迫症，也不知道是好事还是坏事，</tspan><tspan x="511" dy="23.3">但是强迫自己做一些有意义的事情的时候，有</tspan><tspan x="511" dy="23.3">时候想一下还是挺好的！</tspan></text></g>
<g id="L8g" class="n"><rect x="501" y="4389" width="382" height="63.3" rx="8"/><text x="511" y="4415.8"><tspan x="511">不然对于有稍微强迫症的自己来说，真的是一</tspan><tspan x="511" dy="23.3">种折磨！</tspan></text></g>

<g id="L10a" class="n"><rect x="740" y="4492.5" width="143" height="40" rx="8"/><text x="750" y="4519.3">我有"强迫症"。</text></g>
<g id="L10b" class="n"><rect x="501" y="4573.5" width="382" height="179.8" rx="8"/><text x="511" y="4600.3"><tspan x="511">学完作文，妈妈来接我，我躺在妈妈的车里，</tspan><tspan x="511" dy="23.3">本来车窗是关着的，妈妈嫌车里太闷、太热，</tspan><tspan x="511" dy="23.3">就把车窗开了一点，我嫌车里太凉、太冷，因</tspan><tspan x="511" dy="23.3">为我只穿了一件衣服，妈妈穿两件，就叫妈妈</tspan><tspan x="511" dy="23.3">把车窗关起来，妈妈不关，我就一直叫："一</tspan><tspan x="511" dy="23.3">定要关，一定要关，不关我要玩你的手机！"</tspan><tspan x="511" dy="23.3">妈妈只好把车窗关起来。</tspan></text></g>
<g id="L10c" class="n"><rect x="501" y="4793.5" width="382" height="156.5" rx="8"/><text x="511" y="4820.3"><tspan x="511">我学好钢琴，妈妈带我去吃比萨，到了店里，</tspan><tspan x="511" dy="23.3">我看见有冰淇淋，就跑过去，要吃冰淇淋，妈</tspan><tspan x="511" dy="23.3">妈把我拉住，把我拖了回来，告诉我：冰淇淋</tspan><tspan x="511" dy="23.3">不能吃。我生气了："不嘛，不嘛，我要吃，</tspan><tspan x="511" dy="23.3">你不让我吃，我以后就不学钢琴了！"妈妈只</tspan><tspan x="511" dy="23.3">好让我吃了。</tspan></text></g>
<g id="L10d" class="n"><rect x="501" y="4992" width="382" height="63.3" rx="8"/><text x="511" y="5018.8"><tspan x="511">妈妈说："你这样‘强迫症’强迫别人，我真拿</tspan><tspan x="511" dy="23.3">你没办法。"</tspan></text></g>

<g id="watermarks">
<text class="wm" x="370" y="720" transform="rotate(-32 370 720)">树图 shutu.cn</text>
<text class="wm" x="370" y="1720" transform="rotate(-32 370 1720)">树图 shutu.cn</text>
<text class="wm" x="370" y="2720" transform="rotate(-32 370 2720)">树图 shutu.cn</text>
<text class="wm" x="370" y="3720" transform="rotate(-32 370 3720)">树图 shutu.cn</text>
<text class="wm" x="370" y="4720" transform="rotate(-32 370 4720)">树图 shutu.cn</text>
<text class="wm" x="370" y="5720" transform="rotate(-32 370 5720)">树图 shutu.cn</text>
<text class="wm" x="1660" y="670" transform="rotate(-32 1660 670)">树图 shutu.cn</text>
<text class="wm" x="1660" y="1670" transform="rotate(-32 1660 1670)">树图 shutu.cn</text>
<text class="wm" x="1660" y="2670" transform="rotate(-32 1660 2670)">树图 shutu.cn</text>
<text class="wm" x="1660" y="3670" transform="rotate(-32 1660 3670)">树图 shutu.cn</text>
<text class="wm" x="1660" y="4670" transform="rotate(-32 1660 4670)">树图 shutu.cn</text>
<text class="wm" x="1660" y="5670" transform="rotate(-32 1660 5670)">树图 shutu.cn</text>
</g>
</g>
</svg>
